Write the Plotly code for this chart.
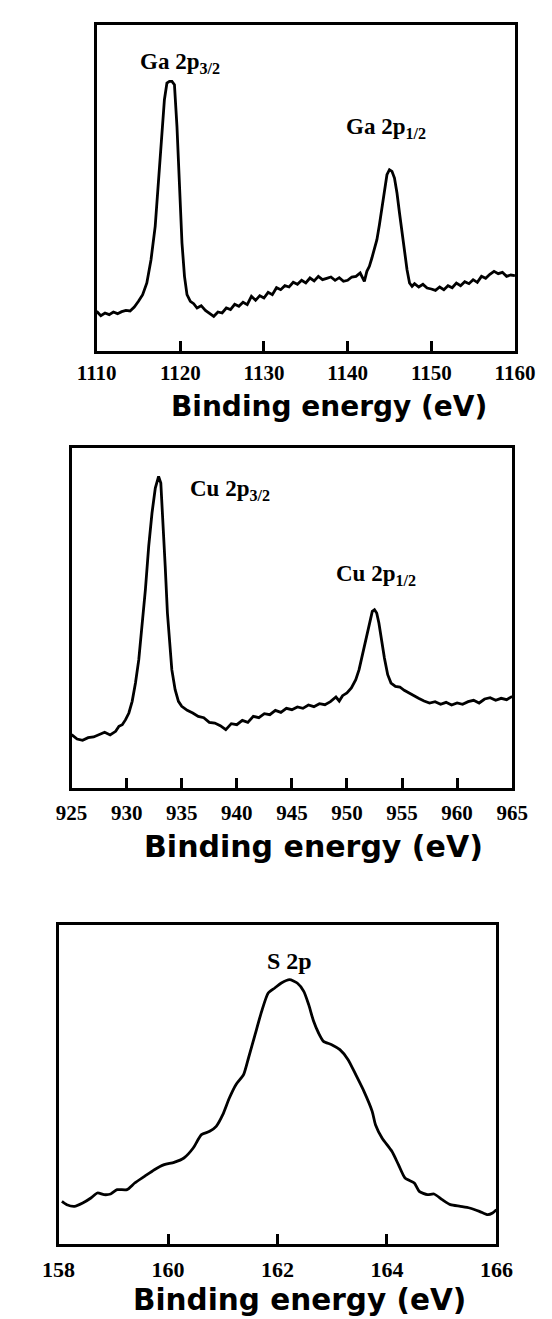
import plotly.graph_objects as go

# ---------------- data ----------------
ga_energy = [1110, 1110.5, 1111, 1111.5, 1112, 1112.5, 1113, 1113.5, 1114, 1114.5,
             1115, 1115.5, 1116, 1116.5, 1117, 1117.5, 1117.8, 1118.1, 1118.4, 1118.7,
             1119.0, 1119.3, 1119.6, 1119.9, 1120.2, 1120.5, 1120.8, 1121.2, 1121.6, 1122,
             1122.5, 1123, 1123.5, 1124, 1124.5, 1125, 1125.5, 1126, 1126.5, 1127,
             1127.5, 1128, 1128.5, 1129, 1129.5, 1130, 1130.5, 1131, 1131.5, 1132,
             1132.5, 1133, 1133.5, 1134, 1134.5, 1135, 1135.5, 1136, 1136.5, 1137,
             1137.5, 1138, 1138.5, 1139, 1139.5, 1140, 1140.5, 1141, 1141.5, 1142,
             1142.3, 1142.6, 1142.9, 1143.2, 1143.5, 1143.8, 1144.1, 1144.4, 1144.7, 1145.0,
             1145.3, 1145.6, 1145.9, 1146.2, 1146.5, 1146.8, 1147.1, 1147.4, 1147.7, 1148,
             1148.5, 1149, 1149.5, 1150, 1150.5, 1151, 1151.5, 1152, 1152.5, 1153,
             1153.5, 1154, 1154.5, 1155, 1155.5, 1156, 1156.5, 1157, 1157.5, 1158,
             1158.5, 1159, 1159.5, 1160]
ga_intensity = [12.5, 11.2, 12.0, 11.5, 12.3, 11.8, 12.4, 12.8, 12.6, 13.8,
                15.5, 17.5, 21.0, 28.0, 38.0, 55.0, 66.0, 76.0, 81.0, 81.5,
                81.5, 80.5, 68.0, 50.0, 33.0, 23.0, 17.5, 15.5, 14.8, 13.5,
                14.2, 12.8, 12.0, 11.0, 12.3, 12.0, 13.5, 13.0, 14.6, 14.0,
                15.2, 14.5, 17.0, 15.8, 17.2, 16.5, 18.2, 17.5, 19.6, 19.0,
                20.2, 19.8, 21.2, 20.6, 21.8, 21.0, 22.5, 21.6, 23.0, 22.0,
                22.4, 22.8, 21.8, 22.6, 21.5, 21.8, 22.8, 23.0, 24.0, 21.5,
                24.5, 26.0, 28.5, 31.0, 34.0, 38.5, 44.0, 49.5, 53.5, 55.0,
                54.5, 52.5, 48.0, 42.0, 36.0, 30.0, 25.0, 21.0, 20.0, 20.8,
                19.8, 20.6, 19.5, 19.2, 18.8, 19.8, 19.0, 20.2, 19.6, 21.0,
                20.2, 21.4, 20.8, 22.0, 21.2, 23.0, 22.4, 23.6, 24.5, 23.8,
                24.2, 23.0, 23.4, 23.2]

cu_energy = [925.0, 925.5, 926.0, 926.5, 927.0, 927.5, 928.0, 928.5, 929.0, 929.3,
             929.6, 929.9, 930.2, 930.5, 930.8, 931.1, 931.4, 931.7, 932.0, 932.3,
             932.6, 932.9, 933.1, 933.3, 933.5, 933.7, 933.9, 934.1, 934.4, 934.7,
             935.0, 935.5, 936.0, 936.5, 937.0, 937.5, 938.0, 938.5, 939.0, 939.5,
             940.0, 940.5, 941.0, 941.5, 942.0, 942.5, 943.0, 943.5, 944.0, 944.5,
             945.0, 945.5, 946.0, 946.5, 947.0, 947.5, 948.0, 948.5, 949.0, 949.3,
             949.6, 950.0, 950.4, 950.8, 951.1, 951.4, 951.7, 952.0, 952.3, 952.5,
             952.7, 952.9, 953.1, 953.4, 953.7, 954.0, 954.4, 954.8, 955.2, 955.6,
             956.0, 956.5, 957.0, 957.5, 958.0, 958.5, 959.0, 959.5, 960.0, 960.5,
             961.0, 961.5, 962.0, 962.5, 963.0, 963.5, 964.0, 964.5, 965.0]
cu_intensity = [13.5, 12.2, 11.8, 12.6, 12.8, 13.6, 14.2, 13.4, 14.5, 16.0,
                16.5, 18.0, 20.0, 23.5, 29.0, 36.0, 46.0, 57.0, 70.0, 80.0,
                87.5, 91.0, 89.0, 78.0, 64.0, 50.0, 40.0, 33.0, 27.0, 23.5,
                22.0, 20.8, 20.0, 19.0, 18.6, 17.2, 17.0, 16.2, 15.0, 16.8,
                16.5, 17.8, 17.2, 19.0, 18.6, 19.8, 19.5, 20.8, 20.2, 21.4,
                21.0, 21.8, 21.4, 22.4, 21.9, 22.8, 22.5, 23.4, 24.8, 23.6,
                25.2, 26.0, 27.5, 30.0, 33.0, 37.5, 42.0, 46.5, 50.5, 51.0,
                50.0, 47.0, 42.5, 36.5, 31.5, 29.0, 28.0, 27.8, 26.8, 26.0,
                25.2, 24.4, 23.6, 23.0, 23.4, 22.6, 23.2, 22.4, 23.0, 22.6,
                23.4, 23.8, 23.0, 24.2, 24.6, 23.8, 24.4, 24.0, 25.0]

s_energy = [158.06, 158.15, 158.29, 158.44, 158.59, 158.71, 158.83, 158.95, 159.07, 159.25,
            159.39, 159.57, 159.75, 159.93, 160.11, 160.29, 160.46, 160.61, 160.76, 160.88,
            161.00, 161.12, 161.24, 161.38, 161.47, 161.59, 161.71, 161.83, 161.95, 162.07,
            162.22, 162.36, 162.48, 162.57, 162.66, 162.75, 162.84, 162.99, 163.14, 163.29,
            163.43, 163.58, 163.73, 163.79, 163.91, 164.09, 164.21, 164.33, 164.50, 164.59,
            164.74, 164.86, 165.01, 165.16, 165.34, 165.51, 165.69, 165.84, 165.93, 166.00]
s_intensity = [12.7, 11.7, 11.2, 12.2, 13.7, 15.2, 14.7, 14.9, 16.2, 16.2,
               18.2, 20.2, 22.2, 23.7, 24.4, 25.7, 28.7, 32.7, 33.7, 35.2,
               38.7, 43.7, 47.7, 50.7, 55.7, 62.7, 69.7, 75.2, 76.7, 78.2,
               79.2, 78.2, 75.7, 71.7, 66.7, 63.2, 60.7, 59.7, 58.2, 55.2,
               50.7, 45.7, 39.7, 35.7, 31.7, 27.7, 23.7, 19.7, 18.2, 15.7,
               14.7, 14.9, 13.2, 11.7, 11.2, 10.7, 9.7, 8.7, 9.2, 10.2]

ga_ticks = [1110, 1120, 1130, 1140, 1150, 1160]
cu_ticks = [925, 930, 935, 940, 945, 950, 955, 960, 965]
s_ticks = [158, 160, 162, 164, 166]

x_title = "Binding energy (eV)"
peak_labels = [
    ("Ga 2p<sub>3/2</sub>", 1120.0, 87.0, "x", "y", 23),
    ("Ga 2p<sub>1/2</sub>", 1144.6, 67.5, "x", "y", 23),
    ("Cu 2p<sub>3/2</sub>", 939.4, 86.9, "x2", "y2", 23),
    ("Cu 2p<sub>1/2</sub>", 952.6, 61.4, "x2", "y2", 23),
    ("S 2p", 162.22, 84.7, "x3", "y3", 24),
]

# ---------------- figure ----------------
W, H = 552, 1319
fig = go.Figure()
fig.add_trace(go.Scatter(x=ga_energy, y=ga_intensity, mode="lines",
                         line=dict(color="black", width=2.8), xaxis="x", yaxis="y"))
fig.add_trace(go.Scatter(x=cu_energy, y=cu_intensity, mode="lines",
                         line=dict(color="black", width=2.8), xaxis="x2", yaxis="y2"))
fig.add_trace(go.Scatter(x=s_energy, y=s_intensity, mode="lines",
                         line=dict(color="black", width=2.8, shape="spline", smoothing=0.6),
                         xaxis="x3", yaxis="y3"))


def px_x(a, b):
    return [a / W, b / W]


def px_y(top, bottom):
    return [1 - bottom / H, 1 - top / H]


SERIF = "Liberation Serif, Times New Roman, serif"


def xaxis(dom, anchor, rng, ticks, fsize, standoff):
    return dict(domain=dom, anchor=anchor, range=rng, tickvals=ticks,
                ticktext=[str(t) for t in ticks],
                showline=True, mirror=True, linecolor="black", linewidth=3,
                ticks="inside", ticklen=10, tickwidth=2.5, tickcolor="black",
                showgrid=False, zeroline=False,
                tickfont=dict(family=SERIF, size=fsize, color="black", weight="bold"),
                ticklabelstandoff=standoff)


def yaxis(dom, anchor, rng):
    return dict(domain=dom, anchor=anchor, range=rng, showline=True, mirror=True,
                linecolor="black", linewidth=3, ticks="", showticklabels=False,
                showgrid=False, zeroline=False)


fig.update_layout(
    width=W, height=H, autosize=False,
    margin=dict(l=0, r=0, t=0, b=0),
    paper_bgcolor="white", plot_bgcolor="white",
    showlegend=False,
    xaxis=xaxis(px_x(74, 525), "y", [1110, 1160], ga_ticks, 21, 1),
    yaxis=yaxis(px_y(17, 343), "x", [0.6, 98.4]),
    xaxis2=xaxis(px_x(47, 522), "y2", [925, 965], cu_ticks, 21, 4),
    yaxis2=yaxis(px_y(440, 780), "x2", [-2.5, 99.5]),
    xaxis3=xaxis(px_x(33, 505), "y3", [158, 166], s_ticks, 22, 4),
    yaxis3=yaxis(px_y(917, 1236), "x3", [-0.1, 95.6]),
)

for text, xv, yv, xr, yr, fs in peak_labels:
    fig.add_annotation(text=text, x=xv, y=yv, xref=xr, yref=yr, showarrow=False,
                       font=dict(family=SERIF, size=fs, color="black", weight="bold"))

# axis titles (placed as in the scanned figure, slightly right of each plot centre)
title_pos = [(325, 398, 28), (308, 838, 30), (293, 1292, 29.5)]
for cx, cy, fs in title_pos:
    fig.add_annotation(text=x_title, x=cx / W, y=1 - cy / H, xref="paper", yref="paper",
                       xanchor="center", yanchor="middle", showarrow=False,
                       font=dict(family="DejaVu Sans", size=fs, color="black", weight="bold"))

fig.write_html("out.html")
